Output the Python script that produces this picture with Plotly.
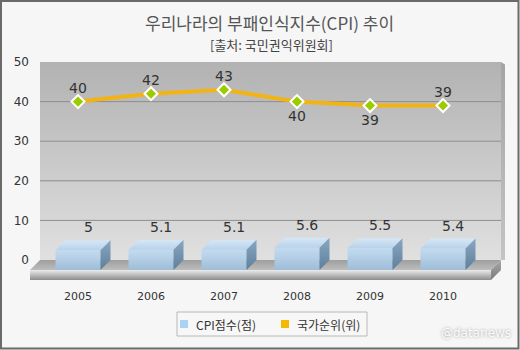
import plotly.graph_objects as go

# ---- data -------------------------------------------------------------
years = ["2005", "2006", "2007", "2008", "2009", "2010"]
cpi_score = [5.0, 5.1, 5.1, 5.6, 5.5, 5.4]          # CPI점수(점)
country_rank = [40, 42, 43, 40, 39, 39]             # 국가순위(위)
y_ticks = [0, 10, 20, 30, 40, 50]

title_text = "우리나라의 부패인식지수(CPI) 추이"
subtitle_text = "[출처: 국민권익위원회]"
series_names = ["CPI점수(점)", "국가순위(위)"]
watermark = "@datanews"

# ---- layout geometry (pixels) ----------------------------------------
W, H = 520, 350
L, R, T, B = 30, 506, 62, 280          # plot area box
X0_PX, X_STEP = 78, 73                 # first category centre, category spacing
Y0_PX = 260                            # value 0 on the back wall
Y_MAX = 50
PY = (Y0_PX - T) / Y_MAX               # pixels per y unit
x_range = [(L - X0_PX) / X_STEP, (R - X0_PX) / X_STEP]
y_range = [-(B - Y0_PX) / PY, Y_MAX]

DX = 10 / X_STEP                        # depth offset in x units
DY = 10 / PY                            # depth offset in y units
WALL_L = (40 - X0_PX) / X_STEP
WALL_R = (501 - X0_PX) / X_STEP
BAR_HW = 22.5 / X_STEP

NUM_FONT = "DejaVu Sans"
KR_FONT = "Noto Sans CJK KR"


def px_x(p):
    return (p - L) / (R - L)


def px_y(p):
    return (B - p) / (B - T)


fig = go.Figure()


def face(xs, ys, bottom, top, line=None):
    """Filled polygon with a vertical gradient (bottom colour -> top colour)."""
    fig.add_trace(go.Scatter(
        x=list(xs) + [xs[0]], y=list(ys) + [ys[0]],
        mode="lines", fill="toself",
        line=dict(width=0 if line is None else 1, color=line or "rgba(0,0,0,0)"),
        fillgradient=dict(type="vertical", colorscale=[[0, bottom], [1, top]]),
        hoverinfo="skip", showlegend=False,
    ))


# back wall
face([WALL_L, WALL_R, WALL_R, WALL_L], [0, 0, Y_MAX, Y_MAX], "#e0e0e0", "#b2b2b2")
# wall right edge
face([WALL_R, WALL_R + 4 / X_STEP, WALL_R + 4 / X_STEP, WALL_R],
     [0, 0, Y_MAX - 0.6, Y_MAX], "#c4c4c4", "#a4a4a4")

# grid lines on the wall
for t in y_ticks[1:-1]:
    fig.add_trace(go.Scatter(x=[WALL_L, WALL_R], y=[t, t], mode="lines",
                             line=dict(color="#8e8e8e", width=1),
                             hoverinfo="skip", showlegend=False))

# floor slab: top, front, right side
face([WALL_L, WALL_R, WALL_R - DX, WALL_L - DX], [0, 0, -DY, -DY], "#bdbdbd", "#9e9e9e")
face([WALL_L - DX, WALL_R - DX, WALL_R - DX, WALL_L - DX], [-DY, -DY, -2 * DY, -2 * DY],
     "#8c8c8c", "#ebebeb")
face([WALL_R - DX, WALL_R, WALL_R, WALL_R - DX], [-DY, 0, -DY, -2 * DY], "#7c7c7c", "#a8a8a8")

# 3D bars
for i, v in enumerate(cpi_score):
    xl, xr = i - BAR_HW, i + BAR_HW
    face([xl, xr, xr, xl], [-DY, -DY, v - DY, v - DY], "#9fbdd8", "#c3dbf0")
    face([xl, xr, xr + DX, xl + DX], [v - DY, v - DY, v, v], "#b7d2ea", "#d6e7f6")
    face([xr, xr + DX, xr + DX, xr], [-DY, 0, v, v - DY], "#5e7f9c", "#88a7c2")

# rank line
fig.add_trace(go.Scatter(
    x=list(range(len(years))), y=country_rank, mode="lines+markers",
    line=dict(color="#f2b414", width=4),
    marker=dict(symbol="diamond", size=10, color="#9ccc00",
                line=dict(color="white", width=2)),
    hoverinfo="skip", showlegend=False,
))

annotations = []
# bar value labels
for i, v in enumerate(cpi_score):
    annotations.append(dict(x=i + DX, y=v, text=f"{v:g}", showarrow=False,
                            yanchor="middle", yshift=13,
                            font=dict(family=NUM_FONT, size=14, color="#333333")))
# rank labels: below the point when the rank dropped from the previous year
for i, r in enumerate(country_rank):
    below = i > 0 and r < country_rank[i - 1]
    annotations.append(dict(x=i, y=r, text=f"{r}", showarrow=False,
                            yanchor="middle", yshift=-14 if below else 14,
                            font=dict(family=NUM_FONT, size=14, color="#333333")))

# titles
annotations.append(dict(xref="paper", yref="paper", x=px_x(269), y=px_y(22),
                        text=title_text, showarrow=False, xanchor="center", yanchor="middle",
                        font=dict(family=KR_FONT, size=17, color="#555555")))
annotations.append(dict(xref="paper", yref="paper", x=px_x(271), y=px_y(44),
                        text=subtitle_text, showarrow=False, xanchor="center", yanchor="middle",
                        font=dict(family=KR_FONT, size=13, color="#444444")))

# legend
shapes = [
    dict(type="rect", xref="paper", yref="paper",
         x0=px_x(177), x1=px_x(367), y0=px_y(336), y1=px_y(312),
         line=dict(color="#b8b8b8", width=1), fillcolor="#f7f7f7", layer="above"),
    dict(type="rect", xref="paper", yref="paper",
         x0=px_x(180), x1=px_x(188), y0=px_y(328), y1=px_y(320),
         line=dict(width=0), fillcolor="#a9d2f4", layer="above"),
    dict(type="rect", xref="paper", yref="paper",
         x0=px_x(281), x1=px_x(289), y0=px_y(328), y1=px_y(320),
         line=dict(width=0), fillcolor="#f4b800", layer="above"),
    # outer frame
    dict(type="rect", xref="paper", yref="paper",
         x0=px_x(1), x1=px_x(518.5), y0=px_y(348.5), y1=px_y(1),
         line=dict(color="#6a6a6a", width=2), layer="above"),
]
for x_px, name in zip([194, 295], series_names):
    annotations.append(dict(xref="paper", yref="paper", x=px_x(x_px), y=px_y(324),
                            text=name, showarrow=False, xanchor="left", yanchor="middle",
                            font=dict(family=KR_FONT, size=12, color="#333333")))

annotations.append(dict(xref="paper", yref="paper", x=px_x(476), y=px_y(333),
                        text=watermark, showarrow=False, xanchor="center", yanchor="middle",
                        font=dict(family=NUM_FONT, size=12, color="#fbfbfb",
                                  shadow="0px 0px 3px #9a9a9a")))

fig.update_layout(
    width=W, height=H,
    margin=dict(l=L, r=W - R, t=T, b=H - B, pad=0),
    paper_bgcolor="#f6f6f6", plot_bgcolor="rgba(0,0,0,0)",
    showlegend=False,
    xaxis=dict(range=x_range, tickvals=list(range(len(years))), ticktext=years,
               showgrid=False, zeroline=False, showline=False, ticks="",
               ticklabelstandoff=8,
               tickfont=dict(family=NUM_FONT, size=11, color="#333333"), fixedrange=True),
    yaxis=dict(range=y_range, tickvals=y_ticks, showgrid=False, zeroline=False,
               showline=False, ticks="", ticklabelstandoff=0,
               tickfont=dict(family=NUM_FONT, size=12, color="#333333"), fixedrange=True),
    annotations=annotations, shapes=shapes,
)

fig.write_html("out.html")
